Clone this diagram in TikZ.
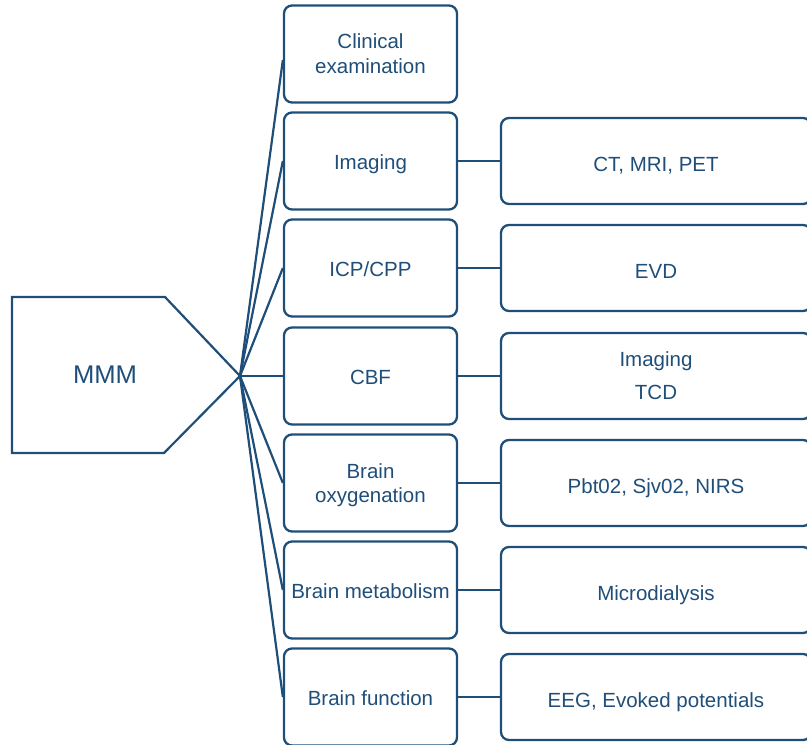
\documentclass[tikz,border=0pt]{standalone}
\usepackage{fontspec}
\setmainfont{Liberation Sans}
\definecolor{mmmblue}{HTML}{1F4E79}
\begin{document}
\begin{tikzpicture}[x=1pt,y=-1pt,
  every node/.style={text=mmmblue, font=\fontsize{20.5}{25}\selectfont},
  catbox/.style={draw=mmmblue, line width=2.3pt, rounded corners=8pt,
    minimum width=173pt, minimum height=97pt, inner sep=0pt, align=center},
  toolbox/.style={draw=mmmblue, line width=2.3pt, rounded corners=8pt,
    minimum width=310pt, minimum height=86pt, inner sep=0pt, align=center},
  link/.style={draw=mmmblue, line width=2.2pt},
  oneline/.style={text height=20.7pt, text depth=0pt},
  catline/.style={text height=16.7pt, text depth=0pt}]
\useasboundingbox (0,0) rectangle (807,745);
\clip (0,0) rectangle (807,745);

% central arrow-shaped block
\draw[link, line join=miter] (12,297) -- (165,297) -- (240,376) -- (164,453) -- (12,453) -- cycle;
\coordinate (tip) at (240,376);
\node[oneline, font=\fontsize{25.6}{30}\selectfont] (mmm) at (105,373.5) {MMM};

% monitoring categories
\node[catbox] (c1) at (370.5,54) {Clinical\\examination};
\node[catbox, catline] (c2) at (370.5,161) {Imaging};
\node[catbox, catline] (c3) at (370.5,268) {ICP/CPP};
\node[catbox, catline] (c4) at (370.5,376) {CBF};
\node[catbox, text depth=0pt, font=\fontsize{20.5}{24}\selectfont] (c5) at (370.5,483) {Brain\\oxygenation};
\node[catbox, catline] (c6) at (370.5,590) {Brain metabolism};
\node[catbox, catline] (c7) at (370.5,697) {Brain function};

% techniques
\node[toolbox, oneline] (t2) at (656,161) {CT, MRI, PET};
\node[toolbox, oneline] (t3) at (656,268) {EVD};
\node[toolbox, font=\fontsize{20.5}{33}\selectfont] (t4) at (656,376) {Imaging\\TCD};
\node[toolbox, oneline] (t5) at (656,483) {Pbt02, Sjv02, NIRS};
\node[toolbox, oneline] (t6) at (656,590) {Microdialysis};
\node[toolbox, oneline] (t7) at (656,697) {EEG, Evoked potentials};

% fan from the block tip
\draw[link] (tip) -- ([yshift=-6pt]c1.west);
\foreach \c in {c2,c3,c4,c5,c6,c7} \draw[link] (tip) -- (\c.west);

% category to technique
\foreach \i in {2,...,7} \draw[link] (c\i.east) -- (t\i.west);
\end{tikzpicture}
\end{document}
